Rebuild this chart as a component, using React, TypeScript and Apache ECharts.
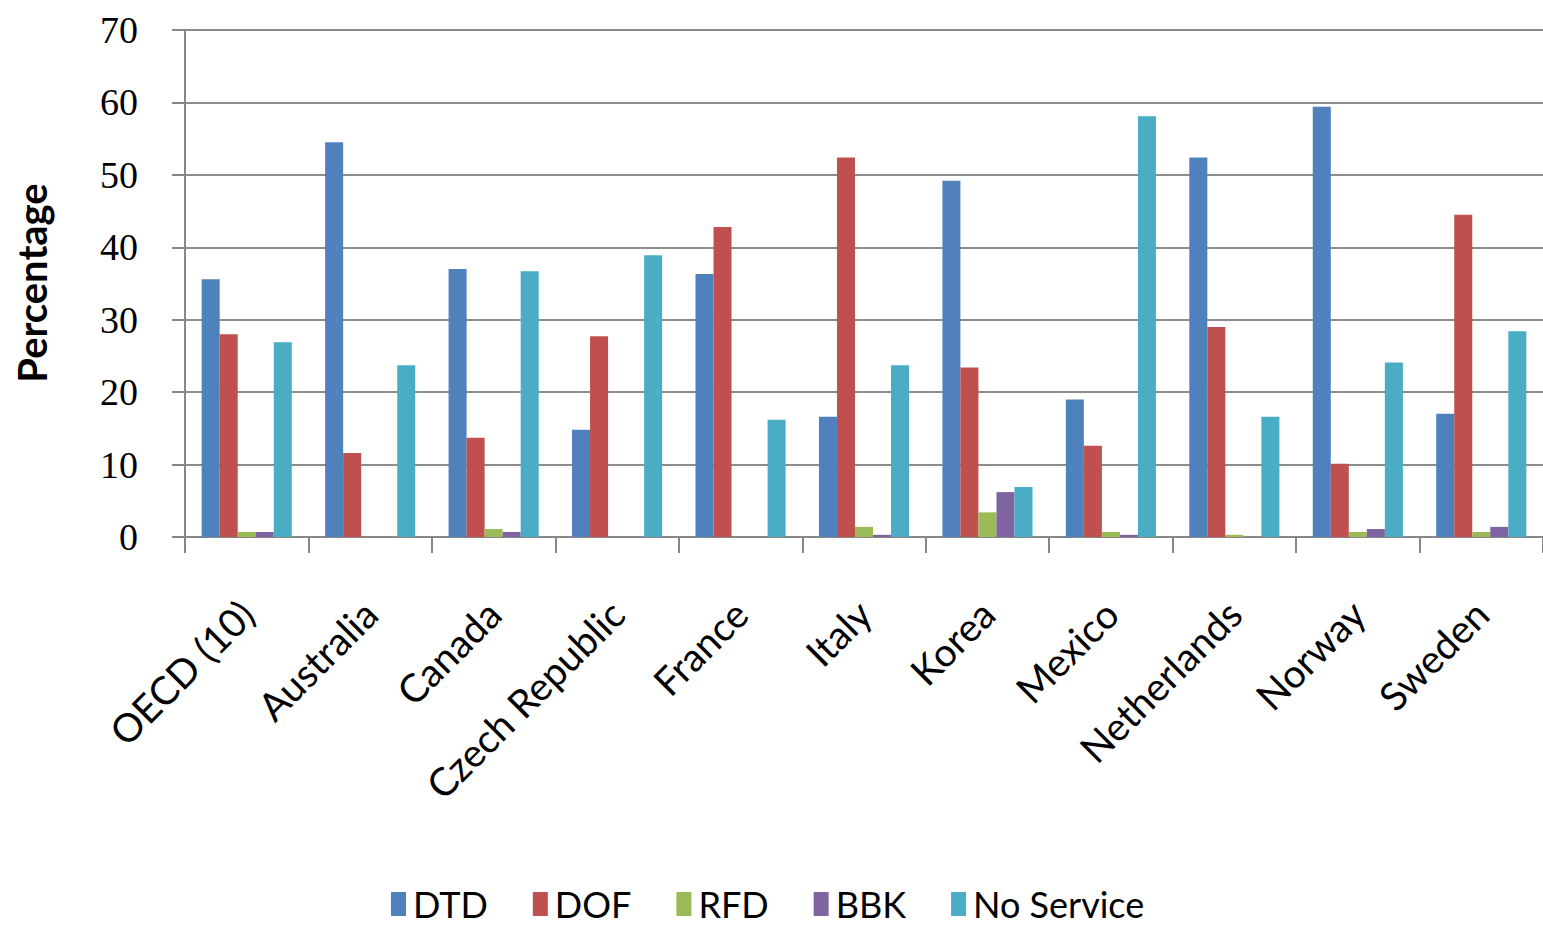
import React, { useEffect, useRef } from "react";
import * as echarts from "echarts";

const categories = [
  "OECD (10)",
  "Australia",
  "Canada",
  "Czech Republic",
  "France",
  "Italy",
  "Korea",
  "Mexico",
  "Netherlands",
  "Norway",
  "Sweden",
];

const seriesNames = ["DTD", "DOF", "RFD", "BBK", "No Service"];
const dtd = [35.6, 54.5, 37.0, 14.8, 36.3, 16.6, 49.2, 19.0, 52.4, 59.4, 17.0];
const dof = [28.0, 11.6, 13.7, 27.7, 42.8, 52.4, 23.4, 12.6, 29.0, 10.1, 44.5];
const rfd = [0.7, 0, 1.1, 0, 0, 1.4, 3.4, 0.7, 0.3, 0.7, 0.7];
const bbk = [0.7, 0, 0.7, 0, 0, 0.3, 6.2, 0.3, 0, 1.1, 1.4];
const noService = [26.9, 23.7, 36.7, 38.9, 16.2, 23.7, 6.9, 58.1, 16.6, 24.1, 28.4];
const yTicks = { min: 0, max: 70, interval: 10 };

const colors = ["#4F81BD", "#C0504D", "#9BBB59", "#8064A2", "#4BACC6"];

export default function App() {
  const ref = useRef<HTMLDivElement>(null);
  useEffect(() => {
    if (!ref.current) return;
    const chart = echarts.init(ref.current, undefined, { renderer: "svg" });
    const data = [dtd, dof, rfd, bbk, noService];
    chart.setOption({
      animation: false,
      backgroundColor: "#ffffff",
      color: colors,
      grid: { left: 185, right: 0, top: 30, bottom: 389, containLabel: false },
      legend: {
        data: seriesNames,
        left: 386,
        top: 881,
        icon: "rect",
        itemWidth: 15,
        itemHeight: 24,
        itemGap: 45,
        textStyle: {
          fontFamily: "Lato",
          fontSize: 36,
          lineHeight: 36,
          color: "#000",
          padding: [0, 0, 0, 2],
        },
      },
      graphic: [
        {
          type: "text",
          x: 32,
          y: 283,
          rotation: Math.PI / 2,
          style: {
            text: "Percentage",
            font: "bold 40px Lato",
            fill: "#000",
            textAlign: "center",
            textVerticalAlign: "middle",
          },
        },
      ],
      xAxis: {
        type: "category",
        data: categories,
        axisLine: { show: true, lineStyle: { color: "#878787", width: 2 } },
        axisTick: { show: true, alignWithLabel: false, length: 16, lineStyle: { color: "#878787", width: 2 } },
        axisLabel: {
          rotate: 45,
          margin: 70,
          interval: 0,
          fontFamily: "Lato",
          fontSize: 39,
          color: "#000",
        },
      },
      yAxis: {
        type: "value",
        min: yTicks.min,
        max: yTicks.max,
        interval: yTicks.interval,
        axisLine: { show: true, lineStyle: { color: "#878787", width: 2 } },
        axisTick: { show: true, length: 13, lineStyle: { color: "#878787", width: 2 } },
        axisLabel: {
          margin: 47,
          fontFamily: "Liberation Serif",
          fontSize: 38,
          color: "#000",
        },
        splitLine: { show: true, lineStyle: { color: "#8c8c8c", width: 2 } },
      },
      series: seriesNames.map((name, i) => ({
        name,
        type: "bar",
        data: data[i],
        barGap: "0%",
        barCategoryGap: "27%",
        itemStyle: { color: colors[i] },
      })),
    });
    return () => chart.dispose();
  }, []);
  return (
    <div
      ref={ref}
      style={{ position: "absolute", left: 0, top: 0, width: 1543, height: 926 }}
    />
  );
}
